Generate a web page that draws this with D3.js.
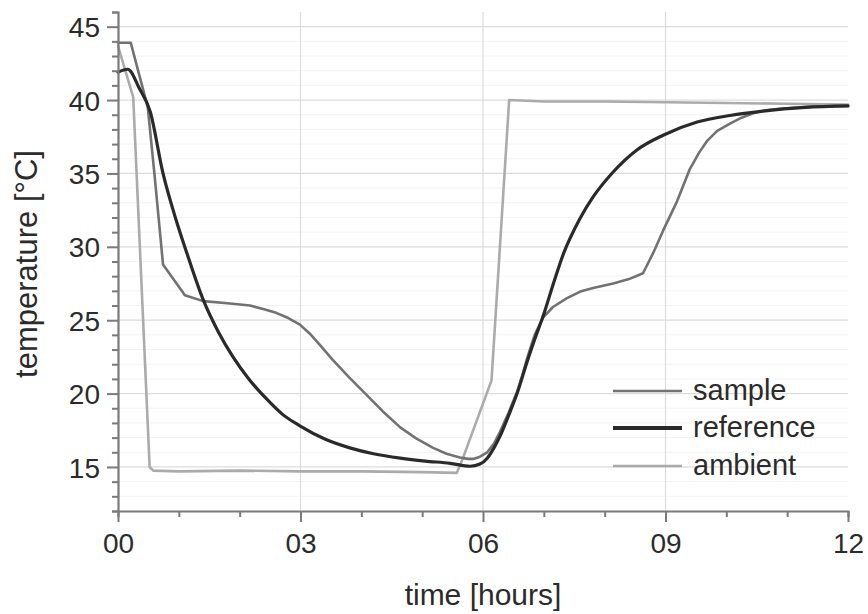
<!DOCTYPE html>
<html>
<head>
<meta charset="utf-8">
<script src="https://cdn.jsdelivr.net/npm/d3@7"></script>
<style>
  html, body { margin: 0; padding: 0; background: #fff; }
  svg { display: block; font-family: "Liberation Sans", Arial, sans-serif; }
</style>
</head>
<body>
<svg id="chart" width="868" height="614"></svg>
<script>
// Temperature traces over a 12-hour run
const sampleTime = [0, 0.21, 0.49, 0.61, 0.74, 1.10, 1.40, 1.8, 2.17, 2.4, 2.6, 2.8, 2.99, 3.15, 3.3, 3.53, 3.8, 4.09, 4.35, 4.64, 4.9, 5.18, 5.4, 5.62, 5.75, 5.84, 5.95, 6.07, 6.18, 6.28, 6.42, 6.56, 6.65, 6.74, 6.85, 6.99, 7.15, 7.38, 7.6, 7.81, 8.14, 8.4, 8.63, 8.8, 8.96, 9.19, 9.40, 9.55, 9.68, 9.85, 10.06, 10.25, 10.44, 10.65, 10.88, 11.4, 12];
const sampleTemp = [43.9, 43.9, 39.5, 34.5, 28.8, 26.7, 26.3, 26.15, 26.0, 25.75, 25.5, 25.15, 24.7, 24.1, 23.4, 22.3, 21.1, 19.9, 18.8, 17.7, 16.95, 16.3, 15.9, 15.65, 15.55, 15.55, 15.7, 16.0, 16.6, 17.4, 18.7, 20.1, 21.3, 22.6, 24.0, 25.2, 25.9, 26.5, 26.95, 27.2, 27.5, 27.8, 28.2, 29.6, 31.1, 33.1, 35.3, 36.4, 37.2, 37.9, 38.4, 38.8, 39.1, 39.3, 39.4, 39.55, 39.6];

const referenceTime = [0, 0.16, 0.35, 0.53, 0.74, 0.95, 1.13, 1.40, 1.65, 1.89, 2.15, 2.45, 2.7, 2.99, 3.4, 3.81, 4.2, 4.64, 5.05, 5.46, 5.79, 5.95, 6.07, 6.18, 6.28, 6.42, 6.56, 6.72, 6.85, 6.99, 7.15, 7.32, 7.59, 7.81, 8.14, 8.53, 8.96, 9.52, 10.06, 10.6, 11.3, 12];
const referenceTemp = [41.9, 42.1, 40.8, 39.2, 35.0, 31.9, 29.6, 26.4, 24.2, 22.5, 21.0, 19.6, 18.6, 17.8, 16.9, 16.3, 15.9, 15.6, 15.4, 15.25, 15.05, 15.2, 15.6, 16.3, 17.1, 18.5, 20.0, 22.1, 23.7, 25.3, 27.4, 29.5, 31.9, 33.4, 35.1, 36.6, 37.6, 38.5, 38.95, 39.25, 39.5, 39.6];

const ambientTime = [0, 0.25, 0.52, 0.58, 1.0, 2.0, 3.0, 4.0, 5.0, 5.57, 5.67, 6.14, 6.43, 7.0, 8.0, 9.0, 10.0, 11.0, 12.0];
const ambientTemp = [43.7, 40.2, 15.0, 14.75, 14.7, 14.75, 14.7, 14.7, 14.65, 14.6, 15.6, 20.9, 40.0, 39.9, 39.9, 39.85, 39.8, 39.75, 39.7];

const xMajorTicks = [0, 3, 6, 9, 12];
const xTickLabels = ["00", "03", "06", "09", "12"];
const yMajorTicks = [15, 20, 25, 30, 35, 40, 45];

const seriesNames = ["sample", "reference", "ambient"];
const seriesColors = ["#727272", "#2a2a2a", "#ababab"];
const seriesWidths = [2.6, 3.2, 2.6];

const svg = d3.select("#chart");
const x = d3.scaleLinear().domain([0, 12]).range([118, 848]);
const y = d3.scaleLinear().domain([12, 46]).range([511, 12]);

// faint minor gridlines every degree
svg.append("g").selectAll("line")
  .data(d3.range(13, 46).filter(v => v % 5 !== 0))
  .join("line")
  .attr("x1", x(0)).attr("x2", x(12))
  .attr("y1", d => y(d)).attr("y2", d => y(d))
  .attr("stroke", "#f3f3f3").attr("stroke-width", 1);

// major horizontal gridlines
svg.append("g").selectAll("line")
  .data(yMajorTicks)
  .join("line")
  .attr("x1", x(0)).attr("x2", x(12))
  .attr("y1", d => y(d)).attr("y2", d => y(d))
  .attr("stroke", "#dcdcdc").attr("stroke-width", 1.2);

// vertical gridlines
svg.append("g").selectAll("line")
  .data([3, 6, 9])
  .join("line")
  .attr("x1", d => x(d)).attr("x2", d => x(d))
  .attr("y1", y(46)).attr("y2", y(12))
  .attr("stroke", "#dcdcdc").attr("stroke-width", 1.2);

// series lines
const series = [
  { time: sampleTime, temp: sampleTemp, curve: d3.curveLinear },
  { time: referenceTime, temp: referenceTemp, curve: d3.curveMonotoneX },
  { time: ambientTime, temp: ambientTemp, curve: d3.curveLinear }
];
const drawOrder = [2, 0, 1];
drawOrder.forEach(i => {
  const s = series[i];
  const pts = s.time.map((t, k) => [t, s.temp[k]]);
  const line = d3.line().x(d => x(d[0])).y(d => y(d[1])).curve(s.curve);
  svg.append("path")
    .attr("d", line(pts))
    .attr("fill", "none")
    .attr("stroke", seriesColors[i])
    .attr("stroke-width", seriesWidths[i])
    .attr("stroke-linejoin", "round")
    .attr("stroke-linecap", "round");
});

const axisColor = "#7a7a7a";
const textColor = "#2b2b2b";

// x axis with hourly minor ticks
const xAxis = svg.append("g").attr("transform", `translate(0,${y(12)})`)
  .call(d3.axisBottom(x).tickValues(d3.range(0, 13)).tickSize(6).tickFormat(""));
xAxis.select(".domain").attr("stroke", axisColor).attr("stroke-width", 2.2);
xAxis.selectAll(".tick line").attr("stroke", axisColor).attr("stroke-width", 2)
  .attr("y2", d => xMajorTicks.includes(d) ? 11 : 6);
xAxis.selectAll(".tick").filter(d => xMajorTicks.includes(d))
  .append("text")
  .attr("y", 42).attr("fill", textColor)
  .attr("text-anchor", "middle")
  .style("font-size", "28px")
  .text(d => xTickLabels[xMajorTicks.indexOf(d)]);

// y axis with one-degree minor ticks
const yAxis = svg.append("g").attr("transform", `translate(${x(0)},0)`)
  .call(d3.axisLeft(y).tickValues(d3.range(12, 47)).tickSize(6).tickFormat(""));
yAxis.select(".domain").attr("stroke", axisColor).attr("stroke-width", 2.2);
yAxis.selectAll(".tick line").attr("stroke", axisColor).attr("stroke-width", 2)
  .attr("x2", d => yMajorTicks.includes(d) ? -11 : -6);
yAxis.selectAll(".tick").filter(d => yMajorTicks.includes(d))
  .append("text")
  .attr("x", -18).attr("dy", "0.36em").attr("fill", textColor)
  .attr("text-anchor", "end")
  .style("font-size", "28px")
  .text(d => d);

// axis titles
svg.append("text")
  .attr("x", x(6)).attr("y", 605)
  .attr("text-anchor", "middle").attr("fill", textColor)
  .style("font-size", "30px")
  .text("time [hours]");

svg.append("text")
  .attr("transform", "translate(37,264) rotate(-90)")
  .attr("text-anchor", "middle").attr("fill", textColor)
  .style("font-size", "31px")
  .text("temperature [°C]");

// legend
const legend = svg.append("g");
const legendY = [391, 428, 466];
seriesNames.forEach((name, i) => {
  legend.append("line")
    .attr("x1", 613).attr("x2", 682)
    .attr("y1", legendY[i]).attr("y2", legendY[i])
    .attr("stroke", seriesColors[i])
    .attr("stroke-width", i === 1 ? 4 : 2.6);
  legend.append("text")
    .attr("x", 693).attr("y", legendY[i]).attr("dy", "0.3em")
    .attr("fill", textColor)
    .style("font-size", "29px")
    .text(name);
});
</script>
</body>
</html>
